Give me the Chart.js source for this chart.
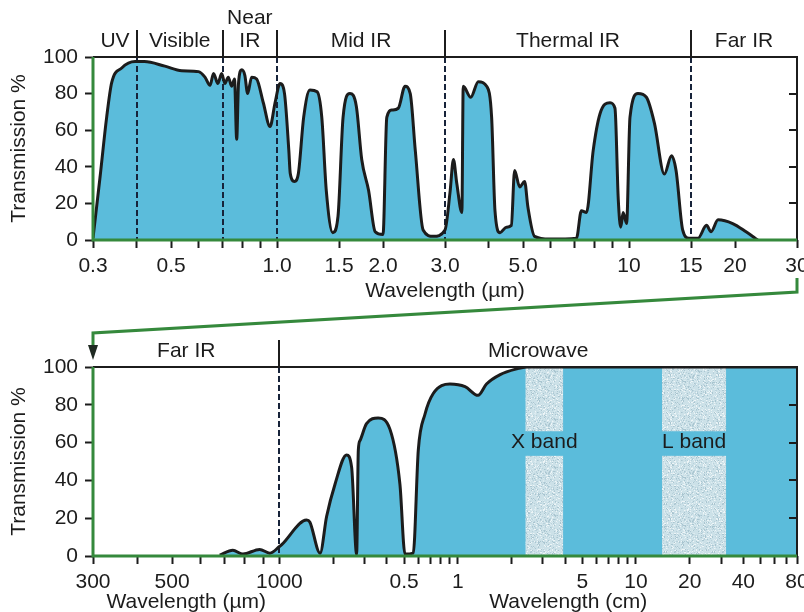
<!DOCTYPE html>
<html>
<head>
<meta charset="utf-8">
<script src="https://cdn.jsdelivr.net/npm/chart.js@4.4.0/dist/chart.umd.min.js"></script>
<style>
  body { margin: 0; background: #fff; }
  #wrap { position: relative; width: 804px; height: 612px; overflow: hidden; }
  canvas { position: absolute; left: 0; }
  #upper { top: 0; }
  #lower { top: 270px; }
</style>
</head>
<body>
<div id="wrap">
  <canvas id="upper" width="804" height="304"></canvas>
  <canvas id="lower" width="804" height="342"></canvas>
</div>
<script>
// ---- upper panel: wavelength in um, transmission in % ----
const upperWave = [0.300, 0.314, 0.328, 0.339, 0.362, 0.395, 0.420, 0.480, 0.536, 0.598, 0.624, 0.645,
  0.660, 0.679, 0.696, 0.711, 0.727, 0.743, 0.757, 0.768, 0.777, 0.794, 0.810, 0.825, 0.847, 0.875,
  0.914, 0.955, 0.987, 1.02, 1.05, 1.08, 1.09, 1.12, 1.15, 1.19, 1.24, 1.30, 1.34, 1.38, 1.44, 1.49,
  1.54, 1.61, 1.68, 1.74, 1.82, 1.90, 2.00, 2.05, 2.12, 2.21, 2.31, 2.39, 2.47, 2.60, 2.78, 3.00,
  3.10, 3.17, 3.24, 3.35, 3.38, 3.55, 3.73, 3.94, 4.07, 4.16, 4.30, 4.48, 4.63, 4.73, 4.89, 5.05,
  5.16, 5.39, 5.95, 7.09, 7.32, 7.57, 7.91, 8.27, 8.83, 9.12, 9.32, 9.47, 9.62, 9.84, 10.06, 10.6,
  11.2, 11.8, 12.6, 13.2, 13.6, 14.2, 14.8, 15.7, 16.6, 17.1, 17.9, 19.7, 21.5, 23.2];
const upperTrans = [1, 34, 67, 86, 94, 97.5, 97.5, 95, 92.5, 92, 89, 84.5,
  91, 85.5, 91, 85.5, 89, 84, 88, 55, 85.5, 93, 90, 80, 89, 88,
  75, 62, 75, 85.5, 80, 49, 36.5, 32, 36.5, 67, 82, 81, 67, 27, 4, 13,
  67, 80, 73, 44, 27, 4.5, 3, 67, 71, 72, 84, 80, 49, 5.5, 2, 5.5,
  26, 44, 31, 15, 84, 78, 86.5, 84, 67, 16, 4, 7, 8, 38, 29, 32,
  18, 2, 0.5, 1, 16, 15, 49, 69, 75, 72, 22, 7, 15, 9, 67, 80,
  78, 64, 36, 46, 38, 5.5, 1, 1, 8, 4.5, 11, 9, 4.5, 0];
const upperTicks = [0.3, 0.4, 0.5, 0.6, 0.7, 0.8, 0.9, 1.0, 1.5, 2.0, 3.0, 4, 5.0, 6, 7, 8, 9, 10, 15, 20, 30];
const upperTickLabels = ["0.3", "", "0.5", "", "", "", "", "1.0", "1.5", "2.0", "3.0", "", "5.0", "", "", "", "", "10", "15", "20", "30"];
const upperRegions = ["UV", "Visible", "Near\nIR", "Mid IR", "Thermal IR", "Far IR"];
const upperEdges = [0.3, 0.4, 0.7, 1.0, 3.0, 15, 30];

// ---- lower panel: wavelength in cm, transmission in % ----
const lowerWave = [0.068, 0.074, 0.079, 0.088, 0.094, 0.100, 0.103, 0.142, 0.148, 0.169, 0.184, 0.205,
  0.238, 0.254, 0.271, 0.277, 0.283, 0.308, 0.358, 0.417, 0.474, 0.506, 0.563, 0.601, 0.655, 0.729,
  0.905, 1.10, 1.30, 1.45, 1.73, 2.14, 2.44, 80];
const lowerTrans = [0.5, 3, 1, 3.5, 1.5, 5, 6, 19, 18, 1.5, 21, 38,
  53.5, 47, 1, 56, 61, 70, 73, 67, 38, 1, 1.5, 56, 75, 86,
  91, 89.6, 85, 91, 96, 99, 100, 100];
const lowerTicks = [0.03, 0.04, 0.05, 0.06, 0.07, 0.08, 0.09, 0.1, 0.2, 0.3, 0.4, 0.5, 0.6, 0.7, 0.8, 0.9,
  1, 2, 3, 4, 5, 6, 7, 8, 9, 10, 20, 30, 40, 50, 60, 70, 80];
const lowerTickLabels = ["300", "", "500", "", "", "", "", "1000", "", "", "", "0.5", "", "", "", "",
  "1", "", "", "", "5", "", "", "", "", "10", "20", "", "40", "", "", "", "80"];
const lowerRegions = ["Far IR", "Microwave"];
const lowerEdges = [0.03, 0.1, 80];
const bandNames = ["X band", "L band"];
const bandFrom = [2.4, 14];
const bandTo = [3.9, 32];

const FONT = "'Liberation Sans', Arial, sans-serif";
const SIZE = 21;
const BLUE = '#5bbcdb';
const GREEN = '#35893c';
const INK = '#1c1c1c';
const DASH = '#17233a';

Chart.defaults.font.family = FONT;
Chart.defaults.font.size = SIZE;
Chart.defaults.color = INK;

// the um part of the lower axis is drawn twice as wide per decade as the cm part
function lowerPos(cm) {
  if (cm <= 0.1) return 2 * Math.log10(cm / 0.03);
  return 2 * Math.log10(0.1 / 0.03) + Math.log10(cm / 0.1);
}

function speckle(ctx) {
  const c = document.createElement('canvas');
  c.width = c.height = 48;
  const g = c.getContext('2d');
  g.fillStyle = '#cce1e8';
  g.fillRect(0, 0, 48, 48);
  const tones = ['#eef5f7', '#a9c5d0', '#dcebf0', '#b8d1db'];
  let s = 12345;
  for (let i = 0; i < 1000; i++) {
    s = (s * 16807) % 2147483647;
    const px = s % 48;
    s = (s * 16807) % 2147483647;
    const py = s % 48;
    g.fillStyle = tones[i % 4];
    g.fillRect(px, py, 1, 1);
  }
  return ctx.createPattern(c, 'repeat');
}

function yAxis() {
  return {
    min: 0, max: 100,
    ticks: { stepSize: 20, padding: 7 },
    grid: { drawOnChartArea: false, tickLength: 8, tickColor: INK, tickWidth: 2 },
    border: { display: false },
    title: { display: true, text: 'Transmission %', padding: { top: 7, bottom: 0 } },
    afterFit(s) { s.width = 93; }
  };
}

function drawFrame(chart) {
  const { ctx, chartArea: a, scales: { y } } = chart;
  ctx.save();
  ctx.strokeStyle = INK;
  ctx.lineWidth = 2;
  ctx.beginPath();
  ctx.moveTo(a.left, a.top);
  ctx.lineTo(a.right, a.top);
  ctx.lineTo(a.right, a.bottom);
  [20, 40, 60, 80].forEach(v => {
    const py = Math.round(y.getPixelForValue(v));
    ctx.moveTo(a.right, py);
    ctx.lineTo(a.right - 8, py);
  });
  ctx.stroke();
  ctx.strokeStyle = GREEN;
  ctx.lineWidth = 3;
  ctx.beginPath();
  ctx.moveTo(a.left, a.top);
  ctx.lineTo(a.left, a.bottom);
  ctx.lineTo(a.right, a.bottom);
  ctx.stroke();
  ctx.restore();
}

function drawRegions(chart, names, edges, xOf) {
  const { ctx, chartArea: a, scales: { x } } = chart;
  ctx.save();
  ctx.font = SIZE + 'px ' + FONT;
  ctx.fillStyle = INK;
  ctx.textAlign = 'center';
  ctx.textBaseline = 'middle';
  names.forEach((n, i) => {
    const x0 = x.getPixelForValue(xOf(edges[i]));
    const x1 = x.getPixelForValue(xOf(edges[i + 1]));
    const lines = n.split('\n');
    lines.forEach((t, j) => ctx.fillText(t, (x0 + x1) / 2, a.top - 16 - (lines.length - 1 - j) * 23));
  });
  ctx.strokeStyle = INK;
  ctx.lineWidth = 2;
  edges.slice(1, -1).forEach(e => {
    const px = Math.round(x.getPixelForValue(xOf(e)));
    ctx.beginPath();
    ctx.moveTo(px, a.top - 27);
    ctx.lineTo(px, a.top);
    ctx.stroke();
  });
  ctx.restore();
}

function drawDashes(chart, edges, xOf) {
  const { ctx, chartArea: a, scales: { x } } = chart;
  ctx.save();
  ctx.strokeStyle = DASH;
  ctx.lineWidth = 2;
  ctx.setLineDash([6, 3]);
  edges.slice(1, -1).forEach(e => {
    const px = Math.round(x.getPixelForValue(xOf(e)));
    ctx.beginPath();
    ctx.moveTo(px, a.top);
    ctx.lineTo(px, a.bottom);
    ctx.stroke();
  });
  ctx.restore();
}

function curveSets(points) {
  return [
    { data: points, borderColor: INK, borderWidth: 3, fill: false, order: 0,
      cubicInterpolationMode: 'monotone', pointRadius: 0 },
    { data: points, borderColor: 'rgba(0,0,0,0)', borderWidth: 0, backgroundColor: BLUE,
      fill: 'origin', order: 1, cubicInterpolationMode: 'monotone', pointRadius: 0 }
  ];
}

const common = {
  responsive: false,
  animation: false,
  events: [],
  plugins: { legend: { display: false }, tooltip: { enabled: false } }
};

// ---------- upper chart ----------
const upperPoints = upperWave.map((w, i) => ({ x: w, y: upperTrans[i] }));
new Chart(document.getElementById('upper'), {
  type: 'line',
  data: { datasets: curveSets(upperPoints) },
  options: {
    ...common,
    layout: { padding: { top: 57, right: 7, left: 0, bottom: 0 }, autoPadding: false },
    scales: {
      x: {
        type: 'logarithmic', min: 0.3, max: 30, bounds: 'data',
        afterBuildTicks(s) { s.ticks = upperTicks.map(v => ({ value: v })); },
        ticks: { autoSkip: false, maxRotation: 0, padding: 6, callback: (v, i) => upperTickLabels[i] },
        grid: { drawOnChartArea: false, tickLength: 8, tickColor: INK, tickWidth: 2 },
        border: { display: false },
        title: { display: true, text: 'Wavelength (\u00b5m)', padding: { top: 0, bottom: 0 } },
        afterFit(s) { s.height = 64; s.paddingLeft = 0; s.paddingRight = 0; }
      },
      y: yAxis()
    }
  },
  plugins: [{
    id: 'upperDecor',
    afterDatasetDraw(chart, args) {
      if (args.index === 1) drawDashes(chart, upperEdges, v => v);
    },
    afterDraw(chart) {
      drawFrame(chart);
      drawRegions(chart, upperRegions, upperEdges, v => v);
    }
  }]
});

// ---------- lower chart ----------
const lowerPoints = lowerWave.map((w, i) => ({ x: lowerPos(w), y: lowerTrans[i] }));
let bandFill = null;
new Chart(document.getElementById('lower'), {
  type: 'line',
  data: { datasets: curveSets(lowerPoints) },
  options: {
    ...common,
    layout: { padding: { top: 97, right: 7, left: 0, bottom: 0 }, autoPadding: false },
    scales: {
      x: {
        type: 'linear', min: 0, max: lowerPos(80), bounds: 'data',
        afterBuildTicks(s) { s.ticks = lowerTicks.map(v => ({ value: lowerPos(v) })); },
        ticks: { autoSkip: false, maxRotation: 0, padding: 6, callback: (v, i) => lowerTickLabels[i] },
        grid: { drawOnChartArea: false, tickLength: 8, tickColor: INK, tickWidth: 2 },
        border: { display: false },
        afterFit(s) { s.height = 56; s.paddingLeft = 0; s.paddingRight = 0; }
      },
      y: yAxis()
    }
  },
  plugins: [{
    id: 'lowerDecor',
    afterDatasetDraw(chart, args) {
      if (args.index !== 1) return;
      const { ctx, scales: { x, y } } = chart;
      if (!bandFill) bandFill = speckle(ctx);
      ctx.save();
      ctx.fillStyle = bandFill;
      bandNames.forEach((n, i) => {
        const x0 = x.getPixelForValue(lowerPos(bandFrom[i]));
        const x1 = x.getPixelForValue(lowerPos(bandTo[i]));
        ctx.fillRect(x0, y.getPixelForValue(100), x1 - x0, y.getPixelForValue(66) - y.getPixelForValue(100));
        ctx.fillRect(x0, y.getPixelForValue(53), x1 - x0, y.getPixelForValue(0) - y.getPixelForValue(53));
      });
      ctx.restore();
      drawDashes(chart, lowerEdges, lowerPos);
    },
    afterDraw(chart) {
      const { ctx, chartArea: a, scales: { x, y } } = chart;
      drawFrame(chart);
      drawRegions(chart, lowerRegions, lowerEdges, lowerPos);
      ctx.save();
      ctx.font = SIZE + 'px ' + FONT;
      ctx.fillStyle = INK;
      ctx.textAlign = 'center';
      ctx.textBaseline = 'middle';
      bandNames.forEach((n, i) => {
        const cx = (x.getPixelForValue(lowerPos(bandFrom[i])) + x.getPixelForValue(lowerPos(bandTo[i]))) / 2;
        ctx.fillText(n, cx, y.getPixelForValue(60));
      });
      // two axis titles under the split axis
      ctx.textBaseline = 'alphabetic';
      ctx.fillText('Wavelength (\u00b5m)', (a.left + x.getPixelForValue(lowerPos(0.1))) / 2, a.bottom + 52);
      ctx.fillText('Wavelength (cm)', (x.getPixelForValue(lowerPos(0.1)) + a.right) / 2 + 30, a.bottom + 52);
      // green connector from the upper panel's right end down to this panel's left end
      ctx.strokeStyle = GREEN;
      ctx.lineWidth = 3;
      ctx.beginPath();
      ctx.moveTo(a.right, a.top - 89);
      ctx.lineTo(a.right, a.top - 75);
      ctx.lineTo(a.left, a.top - 34);
      ctx.lineTo(a.left, a.top - 16);
      ctx.stroke();
      ctx.fillStyle = '#1f2a22';
      ctx.beginPath();
      ctx.moveTo(a.left - 5, a.top - 22);
      ctx.lineTo(a.left + 5, a.top - 22);
      ctx.lineTo(a.left, a.top - 7);
      ctx.closePath();
      ctx.fill();
      ctx.restore();
    }
  }]
});
</script>
</body>
</html>
